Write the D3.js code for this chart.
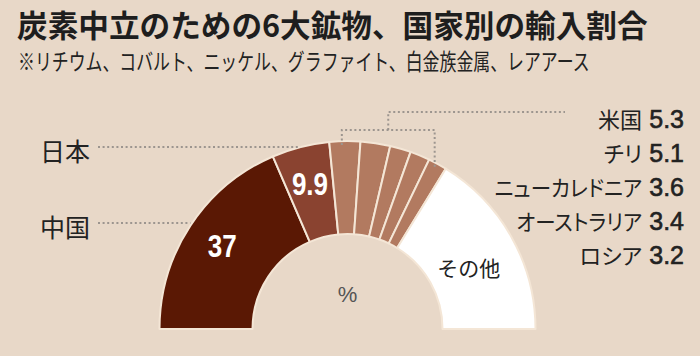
<!DOCTYPE html>
<html><head><meta charset="utf-8">
<script src="https://cdn.jsdelivr.net/npm/d3@7"></script>
<style>
html,body{margin:0;padding:0;background:#e8d8c8;}
svg{display:block;}
.jp{font-family:"Noto Sans CJK JP","Noto Sans",sans-serif;}
.palt{font-feature-settings:"palt" 1;}
</style></head>
<body>
<svg id="c" width="700" height="356"></svg>
<script>
const title = "炭素中立のための6大鉱物、国家別の輸入割合";
const subtitle = "※リチウム、コバルト、ニッケル、グラファイト、白金族金属、レアアース";
const countries = ["中国","日本","米国","チリ","ニューカレドニア","オーストラリア","ロシア","その他"];
const values = [37, 9.9, 5.3, 5.1, 3.6, 3.4, 3.2, 32.5];
const colors = ["#5a1804","#8a4330","#b27a60","#b27a60","#b27a60","#b27a60","#b27a60","#ffffff"];
const rightNames = ["米国","チリ","ニューカレドニア","オーストラリア","ロシア"];
const rightValues = ["5.3","5.1","3.6","3.4","3.2"];
const unitLabel = "%";

const svg = d3.select("#c");
const W = 700, H = 356;
svg.append("rect").attr("width",W).attr("height",H).attr("fill","#e8d8c8");

// fit a text to a given width by horizontal scaling
function fitText(sel, x, y, width, sy){
  const w = sel.node().getComputedTextLength();
  const s = width / w;
  sel.attr("x",0).attr("y",0).attr("transform",`translate(${x},${y}) scale(${s},${sy||1})`);
}

// title
const t1 = svg.append("text").attr("class","jp")
  .attr("font-size",30).attr("font-weight",700).attr("fill","#1e1e1e").text(title);
fitText(t1, 17, 36.5, 631, 1.04);
const t2 = svg.append("text").attr("class","jp")
  .attr("font-size",20).attr("fill","#222").text(subtitle);
fitText(t2, 18, 70, 572, 1.12);

const cx = 347.5, cy = 329, R = 188, r0 = 95;
const g = svg.append("g").attr("transform",`translate(${cx},${cy})`);
const pie = d3.pie().sort(null).startAngle(-Math.PI/2).endAngle(Math.PI/2);
const arcs = pie(values);
const arc = d3.arc().innerRadius(r0).outerRadius(R);
g.selectAll("path.seg").data(arcs).join("path").attr("class","seg")
  .attr("d",arc).attr("fill",(d,i)=>colors[i])
  .attr("stroke","#f4e6d6").attr("stroke-width",2).attr("stroke-linejoin","round");

function pt(a, rr){ return [cx + rr*Math.sin(a), cy - rr*Math.cos(a)]; }
const mid = d => (d.startAngle + d.endAngle)/2;

// inner value labels
const labelArc = d3.arc().innerRadius(150).outerRadius(150);
[0,1].forEach(i=>{
  const c = labelArc.centroid(arcs[i]);
  g.append("text").attr("transform",`translate(${c[0]},${c[1]}) scale(0.84,1)`)
    .attr("text-anchor","middle").attr("dominant-baseline","central")
    .attr("font-family","'Liberation Sans',Arial,sans-serif")
    .attr("font-weight",700).attr("font-size",31).attr("fill","#fff")
    .text(values[i]);
});
// その他
{
  const c = d3.arc().innerRadius(139).outerRadius(139).centroid(arcs[7]);
  g.append("text").attr("class","jp").attr("x",c[0]).attr("y",c[1]+6)
    .attr("text-anchor","middle").attr("dominant-baseline","central")
    .attr("font-size",21).attr("fill","#222").text(countries[7]);
}
// %
svg.append("text").attr("x",cx).attr("y",cy-35)
  .attr("text-anchor","middle").attr("dominant-baseline","central")
  .attr("font-family","'Liberation Sans',Arial,sans-serif").attr("font-size",22)
  .attr("fill","#555").text(unitLabel);

// leader lines
const dot = sel => sel.attr("fill","none").attr("stroke","#9c958f").attr("stroke-width",2)
  .attr("stroke-dasharray","2,2.6");
[0,1].forEach(i=>{
  const p = pt(mid(arcs[i]), R);
  const y = Math.round(p[1]) - (i===0?3:0);
  svg.append("line").attr("x1",98).attr("x2",p[0]).attr("y1",y).attr("y2",y).call(dot);
  svg.append("text").attr("class","jp").attr("x",40).attr("y",y+3)
    .attr("dominant-baseline","central").attr("font-size",25).attr("fill","#222")
    .text(countries[i]);
});
// bracket over small segments
const us = arcs[2], ru = arcs[6];
const pL = pt(us.startAngle + 0.4*(us.endAngle-us.startAngle), R-4);
const pR = pt(mid(ru), R-6);
const yB = 130, yT = 112;
const xM = (pL[0]+pR[0])/2;
svg.append("path").attr("d",`M${pL[0]},${pL[1]}V${yB}H${pR[0]}V${pR[1]}`).call(dot);
svg.append("path").attr("d",`M${xM},${yB}V${yT}H565`).call(dot);

// right labels
const yScale = d3.scaleLinear().domain([0,4]).range([118,254]);
rightNames.forEach((n,i)=>{
  const y = yScale(i);
  const t = svg.append("text").attr("class","jp palt")
    .attr("text-anchor","end").attr("dominant-baseline","central")
    .attr("font-size",22).attr("fill","#222").text(n);
  const sx = n.length > 3 ? 0.93 : 1;
  t.attr("transform",`translate(642,${y}) scale(${sx},1)`);
  svg.append("text").attr("x",684).attr("y",y+1)
    .attr("text-anchor","end").attr("dominant-baseline","central")
    .attr("font-family","'Liberation Sans',Arial,sans-serif")
    .attr("font-size",25).attr("fill","#222")
    .attr("stroke","#222").attr("stroke-width",0.6).text(rightValues[i]);
});
</script>
</body></html>
